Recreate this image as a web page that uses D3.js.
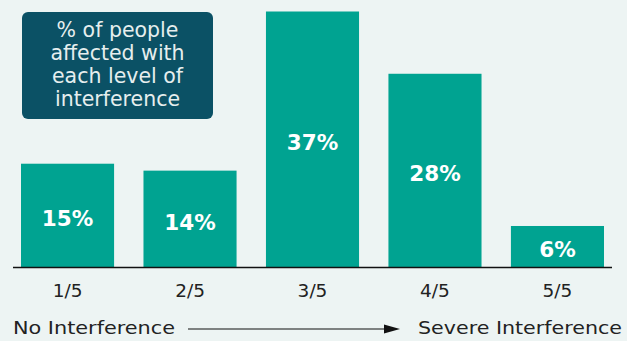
<!DOCTYPE html>
<html><head><meta charset="utf-8">
<script src="https://cdn.jsdelivr.net/npm/d3@7"></script>
<style>html,body{margin:0;padding:0;background:#edf4f3;}svg{display:block;}</style>
</head><body>
<script>
const categories = ["1/5","2/5","3/5","4/5","5/5"];
const values = [15,14,37,28,6];
const valueLabels = ["15%","14%","37%","28%","6%"];
const boxLines = ["% of people","affected with","each level of","interference"];
const axisLeftLabel = "No Interference";
const axisRightLabel = "Severe Interference";

const W=627,H=341, baseY=267.5;
const font = "'DejaVu Sans', 'Noto Sans', sans-serif";
const svg = d3.select("body").append("svg").attr("width",W).attr("height",H);
svg.append("rect").attr("width",W).attr("height",H).attr("fill","#edf4f3");

const x = d3.scaleBand().domain(categories).range([21,604]).paddingInner(0.24).paddingOuter(0);
const y = d3.scaleLinear().domain([0,37]).range([baseY,11.5]);

svg.selectAll(".bar").data(values).join("rect")
  .attr("x",(d,i)=>x(categories[i])).attr("width",x.bandwidth())
  .attr("y",d=>y(d)).attr("height",d=>baseY-y(d)).attr("fill","#00a391");

svg.selectAll(".vl").data(values).join("text")
  .attr("x",(d,i)=>x(categories[i])+x.bandwidth()/2)
  .attr("y",d=>(y(d)+baseY)/2+3)
  .attr("text-anchor","middle").attr("dominant-baseline","central")
  .attr("fill","#fff").attr("font-family",font).attr("font-weight",700).attr("font-size",21.5)
  .text((d,i)=>valueLabels[i]);

svg.append("line").attr("x1",13).attr("x2",612).attr("y1",baseY).attr("y2",baseY)
  .attr("stroke","#111").attr("stroke-width",1.5);

const ax = svg.append("g").attr("transform",`translate(0,${baseY})`)
  .call(d3.axisBottom(x).tickSize(0).tickPadding(16));
ax.select(".domain").remove();
ax.selectAll("text").attr("font-family",font).attr("font-size",18.5).attr("fill","#222");

svg.append("text").attr("x",13).attr("y",328).attr("dominant-baseline","central")
  .attr("font-family",font).attr("font-size",17.5).attr("fill","#222")
  .attr("textLength",162).attr("lengthAdjust","spacingAndGlyphs").text(axisLeftLabel);
svg.append("text").attr("x",418).attr("y",328).attr("dominant-baseline","central")
  .attr("font-family",font).attr("font-size",17.5).attr("fill","#222")
  .attr("textLength",204).attr("lengthAdjust","spacingAndGlyphs").text(axisRightLabel);
svg.append("line").attr("x1",188).attr("x2",386).attr("y1",329).attr("y2",329).attr("stroke","#111").attr("stroke-width",1.2);
svg.append("path").attr("d","M384,324.5 L400,329 L384,333.5 Z").attr("fill","#111");

svg.append("rect").attr("x",22).attr("y",12).attr("width",191).attr("height",107).attr("rx",6)
  .attr("fill","#0b5165");
svg.selectAll(".bt").data(boxLines).join("text")
  .attr("x",117.5).attr("y",(d,i)=>30+i*23).attr("dominant-baseline","central").attr("text-anchor","middle")
  .attr("font-family",font).attr("font-size",20.5).attr("fill","#e6eeee").text(d=>d);
</script>
</body></html>
